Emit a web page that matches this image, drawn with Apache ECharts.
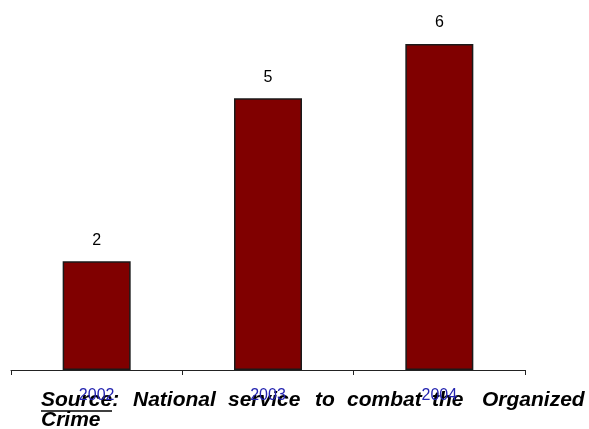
<!DOCTYPE html>
<html>
<head>
<meta charset="utf-8">
<script src="https://cdn.jsdelivr.net/npm/echarts@6/dist/echarts.min.js"></script>
<style>
  html, body { margin: 0; padding: 0; background: #fff; }
  #chart { width: 589px; height: 429px; }
</style>
</head>
<body>
<div id="chart"></div>
<script>
var years = ['2002', '2003', '2004']
var cases = [2, 5, 6]

// justified source line, one word at a time
var sourceWords = [
  ['Source:', 41, 400], ['National', 133, 400], ['service', 228, 400], ['to', 315, 400],
  ['combat', 347, 400], ['the', 432, 400], ['Organized', 482, 400], ['Crime', 41, 420]
]

var font = 'italic bold 21px "Liberation Sans", Arial, sans-serif'
var graphics = sourceWords.map(function (w) {
  return {
    type: 'text',
    style: { text: w[0], x: w[1], y: w[2], font: font, fill: '#000', verticalAlign: 'middle' }
  }
})
graphics.push({
  type: 'line',
  shape: { x1: 41, y1: 411, x2: 112, y2: 411 },
  style: { stroke: '#000', lineWidth: 1.5 }
})

var myChart = echarts.init(document.getElementById('chart'))
myChart.setOption({
  animation: false,
  grid: { left: 11, right: 64, top: 44, bottom: 59 },
  graphic: graphics,
  xAxis: {
    type: 'category',
    data: years,
    zlevel: 1,
    axisLine: { lineStyle: { color: '#222', width: 1 } },
    axisTick: { show: true, length: 5, lineStyle: { color: '#222' } },
    axisLabel: {
      color: '#2424b0',
      fontSize: 16,
      fontFamily: '"Liberation Sans", Arial, sans-serif',
      margin: 18
    }
  },
  yAxis: {
    type: 'value',
    min: 0,
    max: 6,
    show: false,
    splitLine: { show: false }
  },
  series: [
    {
      type: 'bar',
      data: cases,
      barWidth: 68,
      itemStyle: { color: '#800000', borderColor: '#1a1a1a', borderWidth: 1.5 },
      label: {
        show: true,
        position: 'top',
        distance: 13,
        color: '#000',
        fontSize: 16,
        fontFamily: '"Liberation Sans", Arial, sans-serif'
      }
    }
  ]
})
</script>
</body>
</html>
